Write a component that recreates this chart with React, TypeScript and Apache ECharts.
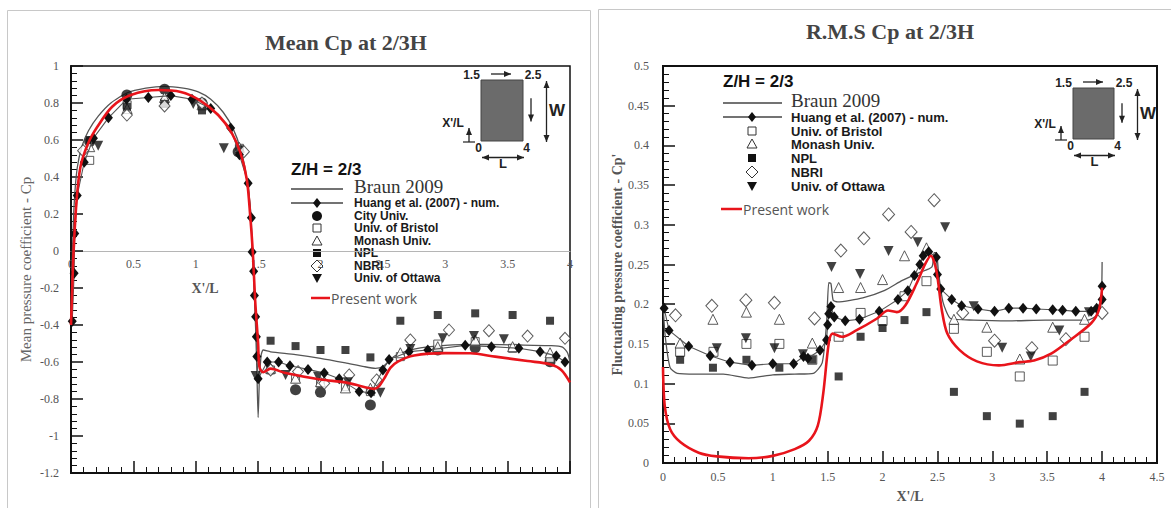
import React, { useEffect, useRef } from "react";
import * as echarts from "echarts";

type P = [number, number];

// ---------- Mean Cp (left panel) ----------
const meanBraun: P[] = [[0,-0.35],[0.01,-0.05],[0.025,0.25],[0.05,0.45],[0.09,0.57],[0.14,0.65],[0.22,0.73],[0.32,0.8],[0.45,0.855],[0.6,0.88],[0.75,0.89],[0.9,0.88],[1.02,0.86],[1.12,0.82],[1.22,0.75],[1.3,0.66],[1.36,0.55],[1.4,0.43],[1.43,0.28],[1.45,0.08],[1.465,-0.15],[1.48,-0.42],[1.49,-0.65],[1.5,-0.9],[1.51,-0.7],[1.525,-0.56],[1.54,-0.535],[1.6,-0.545],[1.8,-0.56],[2.0,-0.58],[2.2,-0.605],[2.35,-0.625],[2.44,-0.634],[2.5,-0.625],[2.55,-0.595],[2.6,-0.565],[2.75,-0.53],[3.0,-0.51],[3.3,-0.505],[3.6,-0.508],[3.85,-0.512],[3.94,-0.52],[3.98,-0.55],[4.0,-0.6]];
const meanHuang: P[] = [[0.01,-0.38],[0.025,-0.12],[0.03,0.095],[0.05,0.3],[0.106,0.48],[0.18,0.61],[0.3,0.72],[0.445,0.82],[0.62,0.83],[0.8,0.84],[0.97,0.82],[1.12,0.77],[1.28,0.665],[1.35,0.52],[1.42,0.366],[1.446,0.18],[1.452,-0.005],[1.464,-0.11],[1.47,-0.24],[1.48,-0.355],[1.486,-0.463],[1.49,-0.57],[1.5,-0.69],[1.573,-0.6],[1.664,-0.6],[1.755,-0.62],[1.9,-0.64],[2.03,-0.66],[2.15,-0.69],[2.31,-0.76],[2.405,-0.766],[2.5,-0.643],[2.55,-0.586],[2.71,-0.544],[2.86,-0.535],[3.16,-0.51],[3.37,-0.517],[3.59,-0.526],[3.76,-0.544],[3.89,-0.567],[3.96,-0.6]];
const meanRed: P[] = [[0,-0.4],[0.01,-0.2],[0.02,-0.01],[0.045,0.275],[0.076,0.456],[0.136,0.58],[0.21,0.67],[0.33,0.78],[0.48,0.843],[0.7,0.87],[0.88,0.86],[1.03,0.816],[1.18,0.735],[1.29,0.636],[1.36,0.528],[1.41,0.384],[1.437,0.186],[1.458,-0.013],[1.476,-0.265],[1.5,-0.5],[1.51,-0.625],[1.54,-0.655],[1.6,-0.636],[1.72,-0.66],[2.0,-0.695],[2.2,-0.71],[2.35,-0.735],[2.43,-0.745],[2.47,-0.73],[2.51,-0.69],[2.56,-0.632],[2.62,-0.598],[2.75,-0.565],[3.0,-0.552],[3.2,-0.553],[3.4,-0.571],[3.66,-0.595],[3.84,-0.612],[3.93,-0.643],[4.0,-0.71]];
const meanCity: P[] = [[0.15,0.59],[0.448,0.843],[0.75,0.874],[1.05,0.8],[1.34,0.537],[1.8,-0.75],[2.0,-0.764],[2.4,-0.832],[2.94,-0.535],[3.24,-0.523],[3.84,-0.598]];
const meanBristol: P[] = [[0.15,0.49],[0.45,0.79],[0.75,0.8],[1.05,0.79],[1.35,0.555],[1.6,-0.643],[1.8,-0.688],[2.0,-0.715],[2.2,-0.733],[2.4,-0.76],[2.64,-0.571],[2.94,-0.503],[3.24,-0.49],[3.54,-0.526],[3.84,-0.58]];
const meanMonash: P[] = [[0.15,0.564],[0.45,0.77],[0.75,0.83],[1.05,0.79],[1.35,0.56],[1.6,-0.634],[1.8,-0.688],[2.0,-0.706],[2.2,-0.74],[2.4,-0.742],[2.64,-0.55],[2.94,-0.517],[3.24,-0.481],[3.54,-0.517],[3.84,-0.55]];
const meanNPL: P[] = [[0.15,0.6],[0.448,0.78],[0.75,0.795],[1.05,0.76],[1.35,0.55],[1.6,-0.485],[1.8,-0.514],[2.0,-0.535],[2.2,-0.535],[2.4,-0.575],[2.64,-0.377],[2.94,-0.346],[3.24,-0.337],[3.54,-0.346],[3.84,-0.377]];
const meanNBRI: P[] = [[0.097,0.542],[0.448,0.735],[0.75,0.784],[1.05,0.8],[1.386,0.537],[1.6,-0.643],[1.82,-0.652],[2.03,-0.715],[2.23,-0.67],[2.45,-0.697],[2.72,-0.481],[3.03,-0.427],[3.35,-0.431],[3.66,-0.46],[3.96,-0.472]];
const meanOttawa: P[] = [[0.218,0.569],[0.98,0.795],[1.225,0.555],[1.48,-0.676],[1.72,-0.67],[1.98,-0.68],[2.22,-0.71],[2.48,-0.766],[2.72,-0.53],[2.98,-0.472],[3.23,-0.46],[3.47,-0.477]];

// ---------- RMS Cp (right panel) ----------
const rmsBraun: P[] = [[0,0.2],[0.02,0.16],[0.065,0.12],[0.13,0.113],[0.3,0.112],[0.55,0.112],[0.78,0.107],[1.0,0.111],[1.2,0.112],[1.37,0.113],[1.45,0.126],[1.49,0.176],[1.51,0.227],[1.53,0.226],[1.55,0.205],[1.59,0.203],[1.82,0.208],[2.02,0.2175],[2.18,0.23],[2.34,0.24],[2.45,0.247],[2.47,0.265],[2.49,0.265],[2.51,0.24],[2.55,0.203],[2.62,0.182],[2.83,0.18],[3.15,0.179],[3.48,0.18],[3.87,0.18],[3.95,0.186],[3.99,0.2],[4.0,0.253]];
const rmsHuang: P[] = [[0.01,0.195],[0.055,0.167],[0.234,0.147],[0.43,0.135],[0.61,0.127],[0.81,0.123],[1.0,0.125],[1.19,0.125],[1.28,0.134],[1.32,0.132],[1.43,0.142],[1.49,0.155],[1.5,0.174],[1.51,0.188],[1.53,0.197],[1.56,0.184],[1.66,0.179],[1.79,0.181],[1.97,0.191],[2.14,0.206],[2.23,0.217],[2.29,0.236],[2.34,0.25],[2.37,0.261],[2.42,0.266],[2.49,0.259],[2.5,0.2375],[2.53,0.219],[2.63,0.206],[2.72,0.198],[2.87,0.194],[3.02,0.191],[3.15,0.195],[3.28,0.195],[3.4,0.194],[3.55,0.193],[3.64,0.1925],[3.76,0.191],[3.9,0.191],[3.95,0.195],[4.0,0.206],[4.0,0.2225]];
const rmsRed: P[] = [[0,0.121],[0.016,0.072],[0.065,0.0425],[0.16,0.026],[0.325,0.013],[0.49,0.0083],[0.78,0.006],[1.0,0.009],[1.2,0.0175],[1.33,0.028],[1.41,0.047],[1.46,0.088],[1.51,0.151],[1.545,0.163],[1.63,0.159],[1.76,0.167],[1.95,0.182],[2.05,0.192],[2.13,0.19],[2.21,0.199],[2.31,0.226],[2.39,0.251],[2.44,0.261],[2.49,0.2425],[2.54,0.1925],[2.59,0.163],[2.7,0.1425],[2.86,0.128],[3.06,0.123],[3.25,0.127],[3.38,0.129],[3.54,0.138],[3.71,0.155],[3.9,0.176],[3.97,0.1925],[4.0,0.221]];
const rmsBristol: P[] = [[0.156,0.14],[0.46,0.14],[0.76,0.15],[1.06,0.15],[1.36,0.13],[1.6,0.159],[1.8,0.189],[2.0,0.179],[2.2,0.21],[2.4,0.229],[2.65,0.169],[2.95,0.14],[3.25,0.109],[3.55,0.129],[3.84,0.159]];
const rmsMonash: P[] = [[0.156,0.151],[0.455,0.181],[0.76,0.19],[1.06,0.181],[1.36,0.151],[1.6,0.221],[1.8,0.221],[2.0,0.231],[2.2,0.261],[2.4,0.271],[2.65,0.181],[2.95,0.171],[3.25,0.131],[3.55,0.171],[3.84,0.181]];
const rmsNPL: P[] = [[0.156,0.13],[0.455,0.12],[0.76,0.13],[1.06,0.12],[1.36,0.13],[1.6,0.109],[1.8,0.159],[2.0,0.17],[2.2,0.18],[2.4,0.19],[2.65,0.0896],[2.95,0.059],[3.25,0.0496],[3.55,0.059],[3.84,0.0896]];
const rmsNBRI: P[] = [[0.114,0.186],[0.445,0.198],[0.755,0.205],[1.015,0.2017],[1.38,0.182],[1.62,0.2675],[1.83,0.283],[2.055,0.313],[2.26,0.291],[2.47,0.331],[2.73,0.189],[3.02,0.154],[3.36,0.1446],[3.67,0.156],[4.0,0.189]];
const rmsOttawa: P[] = [[0.49,0.1446],[0.755,0.157],[1.015,0.1446],[1.275,0.137],[1.535,0.247],[1.795,0.238],[2.055,0.267],[2.32,0.278],[2.57,0.297],[2.83,0.1975],[3.09,0.145],[3.35,0.134],[3.61,0.167],[3.88,0.19]];

const meanLegend = ["Braun 2009", "Huang et al. (2007) - num.", "City Univ.", "Univ. of Bristol", "Monash Univ.", "NPL", "NBRI", "Univ. of Ottawa", "Present work"];
const rmsLegend = ["Braun 2009", "Huang et al. (2007) - num.", "Univ. of Bristol", "Monash Univ.", "NPL", "NBRI", "Univ. of Ottawa", "Present work"];

const SERIF = "'Liberation Serif', 'DejaVu Serif', serif";
const SANS = "'Liberation Sans', Arial, sans-serif";
const RED = "#e8141b";

const fmt = (v: number) => String(parseFloat(v.toFixed(3)));

function markerEl(kind: string, cx: number, cy: number): any {
  const k = "#111";
  switch (kind) {
    case "diamond": return { type: "polygon", shape: { points: [[cx, cy - 5], [cx + 4, cy], [cx, cy + 5], [cx - 4, cy]] }, style: { fill: k } };
    case "circle": return { type: "circle", shape: { cx, cy, r: 5 }, style: { fill: k } };
    case "osquare": return { type: "rect", shape: { x: cx - 4, y: cy - 4, width: 8, height: 8 }, style: { fill: "#fff", stroke: "#333", lineWidth: 1 } };
    case "otri": return { type: "polygon", shape: { points: [[cx, cy - 5], [cx + 5, cy + 4], [cx - 5, cy + 4]] }, style: { fill: "#fff", stroke: "#333", lineWidth: 1 } };
    case "square": return { type: "rect", shape: { x: cx - 4, y: cy - 4, width: 8, height: 8 }, style: { fill: k } };
    case "odiamond": return { type: "polygon", shape: { points: [[cx, cy - 6], [cx + 6, cy], [cx, cy + 6], [cx - 6, cy]] }, style: { fill: "#fff", stroke: "#333", lineWidth: 1 } };
    case "dtri": return { type: "polygon", shape: { points: [[cx - 5, cy - 4], [cx + 5, cy - 4], [cx, cy + 5]] }, style: { fill: k } };
  }
  return null;
}

function legendEls(names: string[], kinds: string[], o: { x0: number; x1: number; mx: number; tx: number; zy: number; rows: number[]; redY: number; redX0: number; redX1: number; fs: number; by: number }) {
  const els: any[] = [];
  els.push({ type: "text", x: o.x0, y: o.zy, style: { text: "Z/H = 2/3", font: `bold 17px ${SANS}`, fill: "#111", verticalAlign: "middle" } });
  names.forEach((n, i) => {
    if (n === "Present work") return;
    const y = o.rows[i];
    const kind = kinds[i];
    if (kind === "line" || kind === "lined") {
      els.push({ type: "line", shape: { x1: o.x0, y1: y, x2: o.x1, y2: y }, style: { stroke: "#444", lineWidth: 1.3 } });
    }
    if (kind === "lined") els.push(markerEl("diamond", o.mx, y));
    else if (kind !== "line") els.push(markerEl(kind, o.mx, y));
    const isBraun = n === "Braun 2009";
    els.push({ type: "text", x: o.tx, y: isBraun ? o.by : y, style: { text: n, font: isBraun ? `19px ${SERIF}` : `bold ${o.fs}px ${SANS}`, fill: isBraun ? "#333" : "#1a1a1a", verticalAlign: "middle" } });
  });
  els.push({ type: "line", shape: { x1: o.redX0, y1: o.redY, x2: o.redX1, y2: o.redY }, style: { stroke: RED, lineWidth: 2.5 } });
  els.push({ type: "text", x: o.redX1 + 1, y: o.redY, style: { text: "Present work", font: `14px 'Open Sans', sans-serif`, fill: "#555", verticalAlign: "middle" } });
  return els;
}

function head(x: number, y: number, dx: number, dy: number) {
  const l = Math.hypot(dx, dy), ux = dx / l, uy = dy / l, px = -uy, py = ux, s = 7, w = 3;
  return { type: "polygon", shape: { points: [[x, y], [x - ux * s + px * w, y - uy * s + py * w], [x - ux * s - px * w, y - uy * s - py * w]] }, style: { fill: "#222" } };
}
function arrow(x1: number, y1: number, x2: number, y2: number, both = false) {
  const a: any[] = [{ type: "line", shape: { x1, y1, x2, y2 }, style: { stroke: "#222", lineWidth: 1.3 } }, head(x2, y2, x2 - x1, y2 - y1)];
  if (both) a.push(head(x1, y1, x1 - x2, y1 - y2));
  return a;
}
function inset(rx: number, ry: number, rw: number, rh: number) {
  const t = (text: string, x: number, y: number, size = 12) => ({ type: "text", x, y, style: { text, font: `bold ${size}px ${SANS}`, fill: "#222", align: "center", verticalAlign: "middle" } });
  return [
    { type: "rect", shape: { x: rx, y: ry, width: rw, height: rh }, style: { fill: "#6b6b6b", stroke: "#444", lineWidth: 1 } },
    t("1.5", rx - 9.5, ry - 5),
    t("2.5", rx + rw + 10, ry - 5),
    ...arrow(rx + 10, ry - 6, rx + 30, ry - 6),
    ...arrow(rx + rw + 8, ry + rh * 0.3, rx + rw + 8, ry + rh * 0.68),
    ...arrow(rx + rw + 23.5, ry + 1, rx + rw + 23.5, ry + rh + 1, true),
    t("W", rx + rw + 34, ry + rh * 0.5, 17),
    t("X'/L", rx - 28, ry + rh * 0.7),
    ...arrow(rx - 12, ry + rh + 1, rx - 12, ry + rh - 13),
    { type: "line", shape: { x1: rx - 18, y1: ry + rh + 1, x2: rx - 6, y2: ry + rh + 1 }, style: { stroke: "#222", lineWidth: 1.2 } },
    t("0", rx - 2.5, ry + rh + 7),
    t("4", rx + rw + 3.7, ry + rh + 7),
    ...arrow(rx + 1, ry + rh + 16.5, rx + rw + 1, ry + rh + 16.5, true),
    t("L", rx + rw / 2 + 1, ry + rh + 22.5, 13),
  ];
}

export default function App() {
  const ref = useRef<HTMLDivElement>(null);
  useEffect(() => {
    if (!ref.current) return;
    const chart = echarts.init(ref.current, null, { renderer: "svg" });
    const tickLabel = { fontFamily: SERIF, fontSize: 12, color: "#555" };
    const frameAxis = (extra: any) => ({
      axisLine: { show: true, onZero: false, lineStyle: { color: "#111", width: 2 } },
      axisTick: { show: true, inside: true, length: 12, lineStyle: { color: "#111", width: 1.5 } },
      minorTick: { show: true, splitNumber: 5, length: 6, lineStyle: { color: "#111", width: 1 } },
      splitLine: { show: false },
      ...extra,
    });
    const scatter = (name: string, data: P[], xi: number, symbol: string, size: any, filled: boolean, rotate = 0) => ({
      type: "scatter", name, data, xAxisIndex: xi, yAxisIndex: xi === 2 ? 1 : 0, symbol, symbolSize: size, symbolRotate: rotate,
      itemStyle: filled ? { color: "#111" } : { color: "#fff", borderColor: "#333", borderWidth: 1 }, z: 3,
    });
    const panel = (xi: number, braun: P[], huang: P[], red: P[]) => [
      { type: "line", name: "Braun 2009", data: braun, xAxisIndex: xi, yAxisIndex: xi === 2 ? 1 : 0, showSymbol: false, smooth: 0.2, lineStyle: { color: "#555", width: 1.3 }, z: 2 },
      { type: "line", name: "Huang et al. (2007) - num.", data: huang, xAxisIndex: xi, yAxisIndex: xi === 2 ? 1 : 0, symbol: "diamond", symbolSize: [9, 11], itemStyle: { color: "#111" }, lineStyle: { color: "#555", width: 1.1 }, z: 4 },
      { type: "line", name: "Present work", data: red, xAxisIndex: xi, yAxisIndex: xi === 2 ? 1 : 0, showSymbol: false, smooth: 0.3, lineStyle: { color: RED, width: 2.6 }, z: 6 },
    ];
    const option: any = {
      animation: false,
      backgroundColor: "#fff",
      grid: [
        { left: 71, top: 66, width: 499, height: 407, show: true, borderColor: "#111", borderWidth: 1.5, backgroundColor: "transparent" },
        { left: 663, top: 66, width: 494, height: 401, show: true, borderColor: "#111", borderWidth: 2, backgroundColor: "transparent" },
      ],
      xAxis: [
        { type: "value", gridIndex: 0, min: 0, max: 4, interval: 0.5, position: "bottom", offset: -222, axisLine: { show: true, onZero: false, lineStyle: { color: "#b5b5b5", width: 1 } }, axisTick: { show: false }, axisLabel: { ...tickLabel, margin: 7, formatter: fmt }, splitLine: { show: false } },
        frameAxis({ type: "value", gridIndex: 0, min: 0, max: 4, interval: 0.5, position: "bottom", axisLabel: { show: false } }),
        frameAxis({ type: "value", gridIndex: 1, min: 0, max: 4.5, interval: 0.5, position: "bottom", axisLabel: { ...tickLabel, margin: 8, formatter: fmt }, name: "X'/L", nameLocation: "middle", nameGap: 26, nameTextStyle: { fontFamily: SERIF, fontSize: 14, fontWeight: "bold", color: "#555" } }),
      ],
      yAxis: [
        frameAxis({ type: "value", gridIndex: 0, min: -1.2, max: 1, interval: 0.2, axisLabel: { ...tickLabel, margin: 12, formatter: fmt }, name: "Mean pressure coefficient - Cp", nameLocation: "middle", nameGap: 38, nameTextStyle: { fontFamily: SERIF, fontSize: 15, color: "#666" } }),
        frameAxis({ type: "value", gridIndex: 1, min: 0, max: 0.5, interval: 0.05, axisLabel: { ...tickLabel, margin: 14, formatter: fmt }, name: "Fluctuating pressure coefficient - Cp'", nameLocation: "middle", nameGap: 36, nameTextStyle: { fontFamily: SERIF, fontSize: 14, fontWeight: "bold", color: "#555" } }),
      ],
      series: [
        ...panel(0, meanBraun, meanHuang, meanRed),
        scatter("City Univ.", meanCity, 0, "circle", 11, true),
        scatter("Univ. of Bristol", meanBristol, 0, "rect", 8, false),
        scatter("Monash Univ.", meanMonash, 0, "triangle", 10, false),
        scatter("NPL", meanNPL, 0, "rect", 8, true),
        scatter("NBRI", meanNBRI, 0, "diamond", [11, 12], false),
        scatter("Univ. of Ottawa", meanOttawa, 0, "triangle", 10, true, 180),
        ...panel(2, rmsBraun, rmsHuang, rmsRed),
        scatter("Univ. of Bristol", rmsBristol, 2, "rect", 9, false),
        scatter("Monash Univ.", rmsMonash, 2, "triangle", 10, false),
        scatter("NPL", rmsNPL, 2, "rect", 8, true),
        scatter("NBRI", rmsNBRI, 2, "diamond", [12, 13], false),
        scatter("Univ. of Ottawa", rmsOttawa, 2, "triangle", 10, true, 180),
      ],
      graphic: [
        { type: "rect", shape: { x: 7.5, y: 10.5, width: 583, height: 520 }, style: { fill: "none", stroke: "#c8c8c8", lineWidth: 1 }, z: -1 },
        { type: "rect", shape: { x: 598.5, y: 9.5, width: 590, height: 520 }, style: { fill: "none", stroke: "#c8c8c8", lineWidth: 1 }, z: -1 },
        { type: "text", x: 346, y: 42, style: { text: "Mean Cp at 2/3H", font: `bold 22px ${SERIF}`, fill: "#444", align: "center", verticalAlign: "middle" } },
        { type: "text", x: 890, y: 31, style: { text: "R.M.S Cp at 2/3H", font: `bold 22px ${SERIF}`, fill: "#444", align: "center", verticalAlign: "middle" } },
        { type: "text", x: 205, y: 288, style: { text: "X'/L", font: `bold 14px ${SERIF}`, fill: "#555", align: "center", verticalAlign: "middle" } },
        ...legendEls(meanLegend, ["line", "lined", "circle", "osquare", "otri", "square", "odiamond", "dtri", ""], { x0: 291, x1: 343, mx: 317, tx: 354, zy: 169, rows: [189, 203, 216, 228, 241, 253, 266, 278], redY: 298, redX0: 311, redX1: 330, fs: 12, by: 186 }),
        ...legendEls(rmsLegend, ["line", "lined", "osquare", "otri", "square", "odiamond", "dtri", ""], { x0: 723, x1: 782, mx: 752, tx: 791, zy: 81, rows: [103, 117, 131, 144, 158, 172, 186], redY: 209, redX0: 721, redX1: 742, fs: 13, by: 100 }),
        ...inset(481, 80, 42, 61),
        ...inset(1073, 88, 41, 51),
      ],
    };
    chart.setOption(option);
    return () => chart.dispose();
  }, []);
  return <div ref={ref} style={{ position: "absolute", left: 0, top: 0, width: 1171, height: 508 }} />;
}
